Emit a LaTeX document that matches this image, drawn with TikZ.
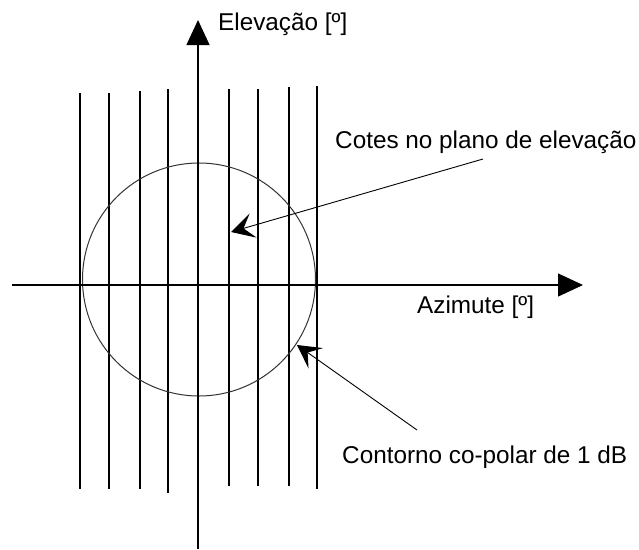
\documentclass[tikz,border=0pt]{standalone}
\usepackage{fontspec}
\setmainfont{Liberation Sans}
\usetikzlibrary{arrows.meta}
\tikzset{
  axisline/.style={line width=1.3pt, -{Triangle[length=25pt,width=23pt]}},
  cutline/.style={line width=1.3pt},
  pointer/.style={line width=0.9pt, -{Stealth[length=23pt,width=25pt,inset=10pt]}},
  txt/.style={font=\fontsize{24.3}{29}\selectfont, anchor=base west, inner sep=0pt}
}

\begin{document}
\begin{tikzpicture}[x=1pt, y=-1pt]
    \useasboundingbox (0,0) rectangle (639,549);
    % cuts in the elevation plane
    \foreach \xc/\yt/\yb in {80/93/489, 109/93/489, 140/91/489, 168/89/493,
                             229/89/486, 258/89/486, 289/87/486, 317/86/489}
      \draw[cutline] (\xc,\yt) -- (\xc,\yb);
    % 1 dB co-polar contour
    \draw[line width=1pt, draw=black!80] (199,279.5) circle (116.5);
    % axes
    \draw[axisline] (12,285) -- (583,285);
    \draw[axisline] (198,549) -- (198,20);
    \node[txt] (elev) at (218,30) {Elevação [º]};
    \node[txt] (azim) at (417,313) {Azimute [º]};
    \node[txt] (cotes) at (335,148) {Cotes no plano de elevação};
    \node[txt] (contorno) at (342,463) {Contorno co-polar de 1 dB};
    % pointers
    \coordinate (cotesfrom) at (483,159);
    \coordinate (cotesto) at (231,232);
    \coordinate (contfrom) at (417,430);
    \coordinate (contto) at (297,345);
    \draw[pointer] (cotesfrom) -- (cotesto);
    \draw[pointer] (contfrom) -- (contto);
  \end{tikzpicture}
\end{document}
